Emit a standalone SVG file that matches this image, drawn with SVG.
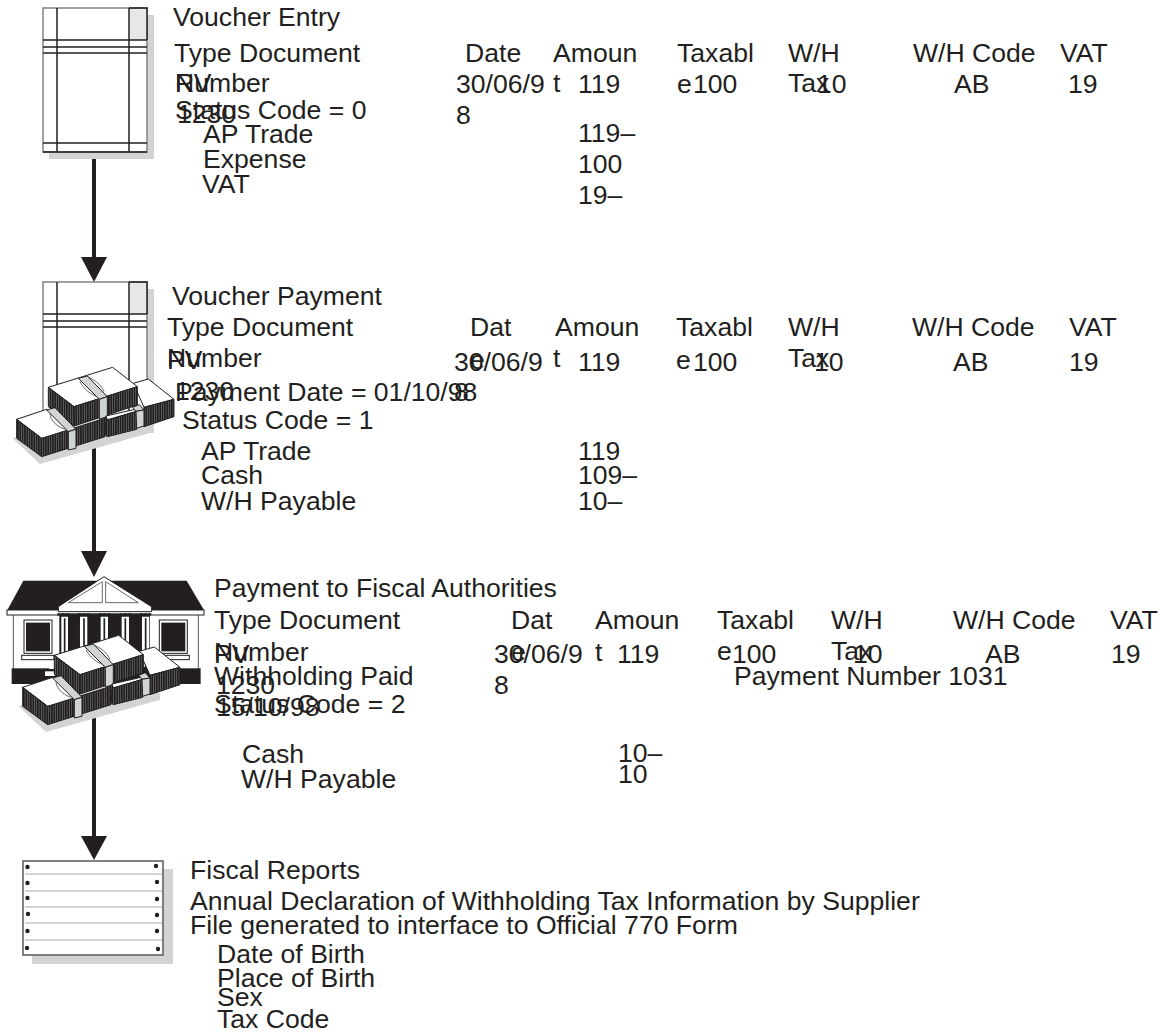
<svg xmlns="http://www.w3.org/2000/svg" xmlns:xlink="http://www.w3.org/1999/xlink" width="1160" height="1034" viewBox="0 0 1160 1034">
<style>
text{font-family:"Liberation Sans",Arial,sans-serif;font-size:26.6px;fill:#231f20}
.k{stroke:#231f20;fill:none;stroke-width:1.5}
.s{fill:#d1d3d4;stroke:none}
.c{stroke:#231f20;stroke-width:4;fill:none}
.a{fill:#231f20;stroke:none}
.w{fill:#fff;stroke:#231f20;stroke-width:3}
.h{fill:url(#h);stroke:#231f20;stroke-width:3}
.b{fill:#d1d3d4;stroke:#231f20;stroke-width:3}
.l{fill:none;stroke:#231f20;stroke-width:2}
</style>
<defs>
<g id="doc">
<rect class="s" x="49" y="15" width="105" height="144"/>
<rect x="43" y="8" width="104" height="144" fill="#fff" stroke="#808285" stroke-width="1.5"/>
<rect x="130" y="9" width="17" height="31" fill="#e6e7e8"/>
<path class="k" d="M57 8V152M129 8V152M43 40H147M43 47H147M43 53H147M43 143H147M129 8H147V40M43 152H147"/>
</g>
<pattern id="h" width="7" height="12" patternUnits="userSpaceOnUse"><rect width="7" height="12" fill="#231f20"/><rect width="1.6" height="12" fill="#808285"/></pattern>
<g id="money">
<path class="s" d="M38 505L120 582L462 485V465L300 440L100 480Z"/>
<path class="w" d="M400 340L445 327L522 388L432 412Z"/>
<path class="h" d="M432 412L522 388V440L432 470Z"/>
<path class="w" d="M145 352L338 292L412 350L222 410Z"/>
<path class="h" d="M145 352L222 410V468L145 410Z"/>
<path class="h" d="M222 410L412 350V405L222 468Z"/>
<path class="l" d="M240 335C250 355 270 375 300 382M262 320C285 330 305 345 312 365"/>
<path class="b" d="M235 325L262 318L322 380L298 388Z"/>
<path class="b" d="M298 388L322 380V440L298 447Z"/>
<path class="w" d="M318 438L405 418L410 424L322 450Z"/>
<path class="h" d="M318 440L322 450L410 424V478L322 500L316 495Z"/>
<path class="b" d="M398 412L418 404L432 420L408 424Z"/>
<path class="b" d="M408 424L432 420V468L410 475Z"/>
<path class="w" d="M50 448L140 418L222 482L125 505Z"/>
<path class="h" d="M50 448L125 505V560L50 505Z"/>
<path class="h" d="M125 505L315 445V500L125 560Z"/>
<path class="l" d="M150 430C150 450 170 470 195 478"/>
<path class="b" d="M140 420L165 413L228 478L205 485Z"/>
<path class="b" d="M205 485L228 478V535L205 540Z"/>
</g>
</defs>
<g id="connectors">
<path class="c" d="M94 150V262"/><path class="a" d="M81 257H107L94 282Z"/>
<path class="c" d="M94 447V556"/><path class="a" d="M81 551H107L94 577Z"/>
<path class="c" d="M94 715V840"/><path class="a" d="M81 836H107L94 860Z"/>
</g>
<g id="voucher-entry"><use xlink:href="#doc"/></g>
<g id="voucher-payment"><use xlink:href="#doc" y="274"/>
<use xlink:href="#money" transform="translate(0 270) scale(.3333)"/>
</g>
<g id="fiscal-authorities">
<g transform="translate(0 570) scale(.3333)">
<rect x="40" y="130" width="555" height="170" fill="#fff" stroke="#58595b" stroke-width="3"/>
<path d="M22 120L70 32H560L612 120Z" fill="#231f20"/>
<rect class="w" x="21" y="120" width="591" height="15"/>
<rect class="w" x="72" y="150" width="84" height="100"/><rect x="78" y="158" width="72" height="86" fill="#231f20"/>
<rect class="w" x="478" y="150" width="84" height="100"/><rect x="484" y="158" width="72" height="86" fill="#231f20"/>
<rect class="w" x="65" y="256" width="97" height="13"/><rect class="w" x="470" y="256" width="98" height="13"/>
<rect x="178" y="130" width="272" height="190" fill="#231f20"/>
<path fill="#fff" d="M184 140h20v150h-20zM240 140h22v150h-22zM302 140h22v150h-22zM365 140h22v150h-22zM426 140h22v150h-22z"/>
<path stroke="#231f20" stroke-width="5" d="M194 145V290M252 145V290M313 145V290M376 145V290M437 145V290"/>
<path class="w" d="M175 110L312 20L455 110V125H175Z"/>
<path class="l" d="M205 98L307 35V98ZM317 35L415 98H317Z"/>
<path d="M172 133h34M234 133h34M296 133h34M359 133h34M420 133h34" stroke="#231f20" stroke-width="7" stroke-dasharray="8 5"/>
<rect x="35" y="295" width="567" height="47" fill="#231f20"/>
<rect x="148" y="288" width="30" height="9" fill="#fff"/><rect x="135" y="304" width="40" height="14" fill="#fff"/>
</g>
<use xlink:href="#money" transform="translate(6 538) scale(.3333)"/>
</g>
<g id="fiscal-reports">
<rect class="s" x="32" y="869" width="141" height="95"/>
<rect x="23" y="861" width="140" height="94" fill="#fff" stroke="#58595b" stroke-width="1.5"/>
<path d="M25 874H162M25 891H162M25 907H162M25 923H162M25 940H162" stroke="#d1d3d4" stroke-width="2"/>
<g fill="#231f20"><circle cx="27.5" cy="867" r="2.2"/><circle cx="27.5" cy="883" r="2.2"/><circle cx="27.5" cy="898" r="2.2"/><circle cx="28" cy="914" r="2.2"/><circle cx="27.5" cy="931" r="2.2"/><circle cx="27" cy="948" r="2.2"/><circle cx="156" cy="866" r="2.2"/><circle cx="157" cy="882" r="2.2"/><circle cx="157" cy="899" r="2.2"/><circle cx="157" cy="915" r="2.2"/><circle cx="157" cy="931" r="2.2"/><circle cx="158" cy="949" r="2.2"/></g>
</g>
<g id="labels">
<text x="173" y="26">Voucher Entry</text>
<text x="174" y="62">Type Document</text><text x="465" y="62">Date</text><text x="553" y="62">Amoun</text><text x="677" y="62">Taxabl</text><text x="788" y="62">W/H</text><text x="913" y="62">W/H Code</text><text x="1060" y="62">VAT</text>
<text x="175" y="92">RV</text><text x="175" y="92">Number</text><text x="456" y="93">30/06/9</text><text x="553" y="92">t</text><text x="578" y="93">119</text><text x="677" y="93">e</text><text x="693" y="93">100</text><text x="788" y="92">Tax</text><text x="817" y="93">10</text><text x="954" y="93">AB</text><text x="1068" y="93">19</text>
<text x="177" y="123">1230</text><text x="175" y="119">Status Code = 0</text><text x="456" y="124">8</text>
<text x="203" y="143">AP Trade</text><text x="578" y="142">119–</text>
<text x="203" y="168">Expense</text><text x="578" y="173">100</text>
<text x="202" y="193">VAT</text><text x="578" y="204">19–</text>
<text x="172" y="305">Voucher Payment</text>
<text x="167" y="336">Type Document</text><text x="470" y="336">Dat</text><text x="555" y="336">Amoun</text><text x="676" y="336">Taxabl</text><text x="788" y="336">W/H</text><text x="912" y="336">W/H Code</text><text x="1069" y="336">VAT</text>
<text x="167" y="369">PV</text><text x="167" y="367">Number</text><text x="470" y="369">e</text><text x="454" y="371">30/06/9</text><text x="553" y="367">t</text><text x="578" y="371">119</text><text x="676" y="369">e</text><text x="693" y="371">100</text><text x="788" y="367">Tax</text><text x="814" y="371">10</text><text x="953" y="371">AB</text><text x="1069" y="371">19</text>
<text x="175" y="400">1230</text><text x="175" y="401">Payment Date = 01/10/98</text><text x="454" y="401">8</text>
<text x="182" y="429">Status Code = 1</text>
<text x="201" y="460">AP Trade</text><text x="578" y="460">119</text>
<text x="201" y="484">Cash</text><text x="578" y="484">109–</text>
<text x="201" y="510">W/H Payable</text><text x="578" y="510">10–</text>
<text x="214" y="597">Payment to Fiscal Authorities</text>
<text x="214" y="629">Type Document</text><text x="511" y="629">Dat</text><text x="595" y="629">Amoun</text><text x="717" y="629">Taxabl</text><text x="831" y="629">W/H</text><text x="953" y="629">W/H Code</text><text x="1110" y="629">VAT</text>
<text x="214" y="663">PV</text><text x="214" y="661">Number</text><text x="511" y="661">e</text><text x="494" y="663">30/06/9</text><text x="595" y="661">t</text><text x="617" y="663">119</text><text x="717" y="660">e</text><text x="732" y="663">100</text><text x="831" y="660">Tax</text><text x="853" y="663">10</text><text x="985" y="663">AB</text><text x="1111" y="663">19</text>
<text x="216" y="694">1230</text><text x="214" y="685">Withholding Paid</text><text x="734" y="685">Payment Number 1031</text><text x="494" y="694">8</text>
<text x="216" y="716">15/10/98</text><text x="214" y="713">Status Code = 2</text>
<text x="242" y="763">Cash</text><text x="618" y="762">10–</text>
<text x="241" y="788">W/H Payable</text><text x="618" y="783">10</text>
<text x="190" y="879">Fiscal Reports</text>
<text x="190" y="910">Annual Declaration of Withholding Tax Information by Supplier</text>
<text x="190" y="934">File generated to interface to Official 770 Form</text>
<text x="217" y="963">Date of Birth</text>
<text x="217" y="987">Place of Birth</text>
<text x="217" y="1006">Sex</text>
<text x="217" y="1028">Tax Code</text>
</g>
</svg>
